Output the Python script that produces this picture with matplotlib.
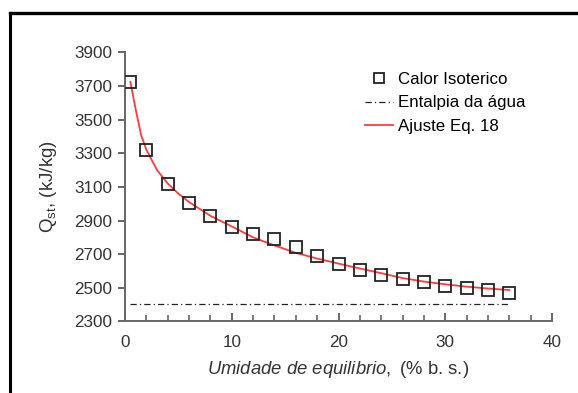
import numpy as np
import matplotlib
matplotlib.use('Agg')
import matplotlib.pyplot as plt
from matplotlib.lines import Line2D
from matplotlib.ticker import MultipleLocator

plt.rcParams['font.family'] = ['Liberation Sans', 'DejaVu Sans']
plt.rcParams['mathtext.fontset'] = 'custom'
plt.rcParams['mathtext.rm'] = 'Liberation Sans'
plt.rcParams['mathtext.it'] = 'Liberation Sans:italic'

# isosteric heat data
umidade = [0.5, 2, 4, 6, 8, 10, 12, 14, 16, 18, 20, 22, 24, 26, 28, 30, 32, 34, 36]
calor = [3725, 3320, 3120, 3005, 2927, 2862, 2820, 2788, 2745, 2688, 2642, 2608, 2578, 2553, 2535, 2513, 2500, 2487, 2472]

# fitted curve (Eq. 18)
ajuste_x = [0.5, 1.0, 1.5, 2, 3, 4, 5, 6, 8, 10, 12, 14, 16, 18, 20, 22, 24, 26, 28, 30, 32, 34, 36]
ajuste_y = [3725, 3560, 3410, 3320, 3200, 3120, 3060, 3010, 2928, 2865, 2800, 2752, 2708, 2674, 2644, 2615, 2587, 2558, 2537, 2521, 2507, 2496, 2487]

# water enthalpy
entalpia_x = [0.5, 36]
entalpia_y = [2405, 2405]

y_ticks = [2300, 2500, 2700, 2900, 3100, 3300, 3500, 3700, 3900]

fig = plt.figure(figsize=(5.78, 3.93), dpi=100)
ax = fig.add_axes([0.2163, 0.182, 0.955 - 0.2163, 0.867 - 0.182])

ax.plot(ajuste_x, ajuste_y, color='#ff3b3b', lw=1.3, label='Ajuste Eq. 18', zorder=2)
ax.plot(entalpia_x, entalpia_y, color='#222222', lw=0.9,
        linestyle=(0, (5, 2.5, 1, 2.5)), label='Entalpia da água', zorder=2)
ax.plot(umidade, calor, linestyle='none', marker='s', ms=8, mfc='none',
        mec='#222222', mew=1.3, label='Calor Isoterico', zorder=3)

ax.set_xlim(0, 40)
ax.set_ylim(2300, 3900)
ax.xaxis.set_major_locator(MultipleLocator(10))
ax.xaxis.set_minor_locator(MultipleLocator(2))
ax.set_yticks(y_ticks)

for s in ['top', 'right']:
    ax.spines[s].set_visible(False)
for s in ['left', 'bottom']:
    ax.spines[s].set_color('#666666')
    ax.spines[s].set_linewidth(1.4)

ax.tick_params(axis='y', which='major', direction='out', length=5, width=1.4,
               color='#666666', labelsize=12.3, labelcolor='#333333', pad=4)
ax.tick_params(axis='x', which='major', direction='in', length=6, width=1.4,
               color='#666666', labelsize=12.3, labelcolor='#333333', pad=10)
ax.tick_params(axis='x', which='minor', direction='in', length=4, width=1.2,
               color='#666666')

ax.set_xlabel('$\\it{Umidade\\ de\\ equilibrio,}$ (% b. s.)', fontsize=13.3,
              color='#333333', labelpad=6)
ax.set_ylabel('Q$_{\\mathrm{st}}$, (kJ/kg)', fontsize=13.5, color='#333333', labelpad=11)

handles, labels = ax.get_legend_handles_labels()
order = [2, 1, 0]
ax.legend([handles[i] for i in order], [labels[i] for i in order],
          loc='upper left', bbox_to_anchor=(365 / 578, 1 - 72 / 393),
          bbox_transform=fig.transFigure, frameon=False, fontsize=12.2,
          borderpad=0, handlelength=1.65, handletextpad=0.3, labelspacing=0.5,
          borderaxespad=0, markerscale=0.85)

# black frame visible at top and left edges
fig.add_artist(Line2D([10 / 578, 1], [1 - 12.5 / 393, 1 - 12.5 / 393],
                      transform=fig.transFigure, color='black', lw=2.4))
fig.add_artist(Line2D([10 / 578, 10 / 578], [0, 1 - 12.5 / 393],
                      transform=fig.transFigure, color='black', lw=2.2))

fig.savefig('out.png', dpi=100)
